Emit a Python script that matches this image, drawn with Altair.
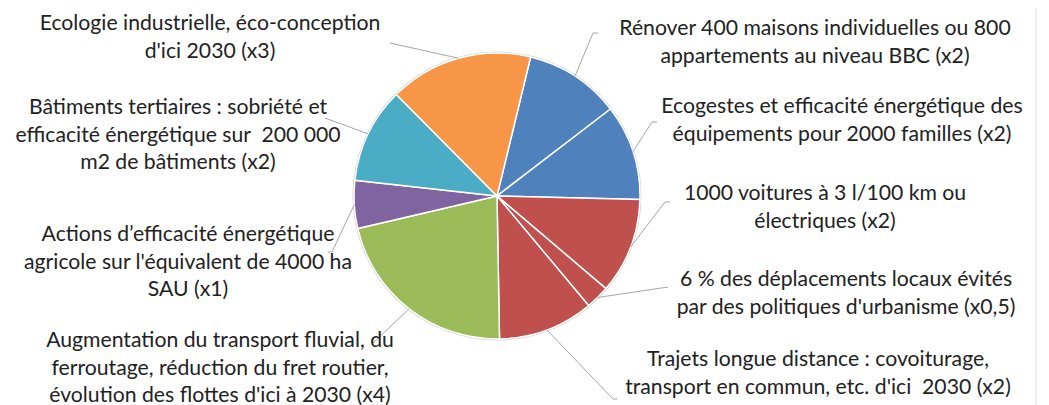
import altair as alt
import numpy as np
import pandas as pd

# ---- data ----
labels = [
    "Rénover 400 maisons individuelles ou 800\nappartements au niveau BBC (x2)",
    "Ecogestes et efficacité énergétique des\néquipements pour 2000 familles (x2)",
    "1000 voitures à 3 l/100 km ou\nélectriques (x2)",
    "6 % des déplacements locaux évités\npar des politiques d'urbanisme (x0,5)",
    "Trajets longue distance : covoiturage,\ntransport en commun, etc. d'ici\u00a0 2030 (x2)",
    "Augmentation du transport fluvial, du\nferroutage, réduction du fret routier,\névolution des flottes d'ici à 2030 (x4)",
    "Actions d’efficacité énergétique\nagricole sur l'équivalent de 4000 ha\nSAU (x1)",
    "Bâtiments tertiaires : sobriété et\nefficacité énergétique sur\u00a0 200 000\nm2 de bâtiments (x2)",
    "Ecologie industrielle, éco-conception\nd'ici 2030 (x3)",
]
values = [2, 2, 2, 0.5, 2, 4, 1, 2, 3]
colors = ["#4F81BD", "#4F81BD", "#C0504D", "#C0504D", "#C0504D",
          "#9BBB59", "#8064A2", "#4BACC6", "#F79646"]

# ---- layout (pixel positions, not data) ----
OFF = 8  # page margin
W, H = 1049 - 2 * OFF, 405 - OFF
CX, CY, R = 497 - OFF, 196 - OFF, 143
START = np.deg2rad(13.6)
# (center x, first-line center y) in page pixels
label_pos = [(815, 29), (842, 107), (825, 194), (846, 280), (818, 360),
             (220, 341), (188, 235), (178, 108), (210, 24)]
leader_bends = [
    [(593, 33), (598, 33)],
    [(652, 122), (657, 122)],
    [(665, 202), (670, 202)],
    [(668, 287)],
    [(613, 399), (617, 399)],
    [(373, 343)],
    [(332, 252), (328, 252)],
    [(325, 118)],
    [(390, 43)],
]

ids = [f"s{i}" for i in range(len(values))]
total = float(sum(values))
pie_df = pd.DataFrame({"id": ids, "value": values, "idx": range(len(values))})

# leader lines: start on the slice edge at its mid-angle
rows = []
cum = 0.0
for i, v in enumerate(values):
    mid = START + (cum + v / 2) / total * 2 * np.pi
    cum += v
    sx = CX + R * np.sin(mid)
    sy = CY - R * np.cos(mid)
    rows.append({"id": ids[i], "seq": 0, "x": sx, "y": sy})
    for j, (bx, by) in enumerate(leader_bends[i]):
        rows.append({"id": ids[i], "seq": j + 1, "x": bx - OFF, "y": by - OFF})
lead_df = pd.DataFrame(rows)

text_df = pd.DataFrame({
    "label": labels,
    "x": [p[0] - OFF for p in label_pos],
    "y": [p[1] - OFF for p in label_pos],
})

xs = alt.Scale(domain=[0, W], range=[0, W])
ys = alt.Scale(domain=[0, H], range=[0, H])

shadow = alt.Chart(pd.DataFrame({"a": [1]})).mark_arc(
    theta=0, theta2=2 * np.pi, radius=R + 1.5, fill="#D4D4D4"
).encode(x=alt.value(CX), y=alt.value(CY))

pie = alt.Chart(pie_df).mark_arc(radius=R, stroke="white", strokeWidth=1.5).encode(
    theta=alt.Theta("value:Q", stack=True,
                    scale=alt.Scale(domain=[0, total], range=[START, START + 2 * np.pi], nice=False)),
    order=alt.Order("idx:Q"),
    color=alt.Color("id:N", scale=alt.Scale(domain=ids, range=colors), legend=None),
    x=alt.value(CX),
    y=alt.value(CY),
)

leaders = alt.Chart(lead_df).mark_line(color="#A6A6A6", strokeWidth=1).encode(
    x=alt.X("x:Q", scale=xs, axis=None),
    y=alt.Y("y:Q", scale=ys, axis=None),
    detail="id:N",
    order="seq:Q",
)

texts = alt.Chart(text_df).mark_text(
    lineBreak="\n", font="Lato", fontSize=21.2, lineHeight=27.5,
    align="center", baseline="middle", color="#222222"
).encode(
    x=alt.X("x:Q", scale=xs, axis=None),
    y=alt.Y("y:Q", scale=ys, axis=None),
    text="label:N",
)

border = alt.Chart(pd.DataFrame({"a": [1]})).mark_rule(color="#D9D9D9", strokeWidth=1).encode(
    x=alt.value(1036 - OFF), y=alt.value(-OFF), y2=alt.value(H)
)

chart = alt.layer(shadow, pie, leaders, texts, border).properties(
    width=W, height=H, padding=0, autosize=alt.AutoSizeParams(type="none")
).configure_view(stroke=None)

chart.save("out.html", embed_options={"renderer": "svg", "actions": False})
